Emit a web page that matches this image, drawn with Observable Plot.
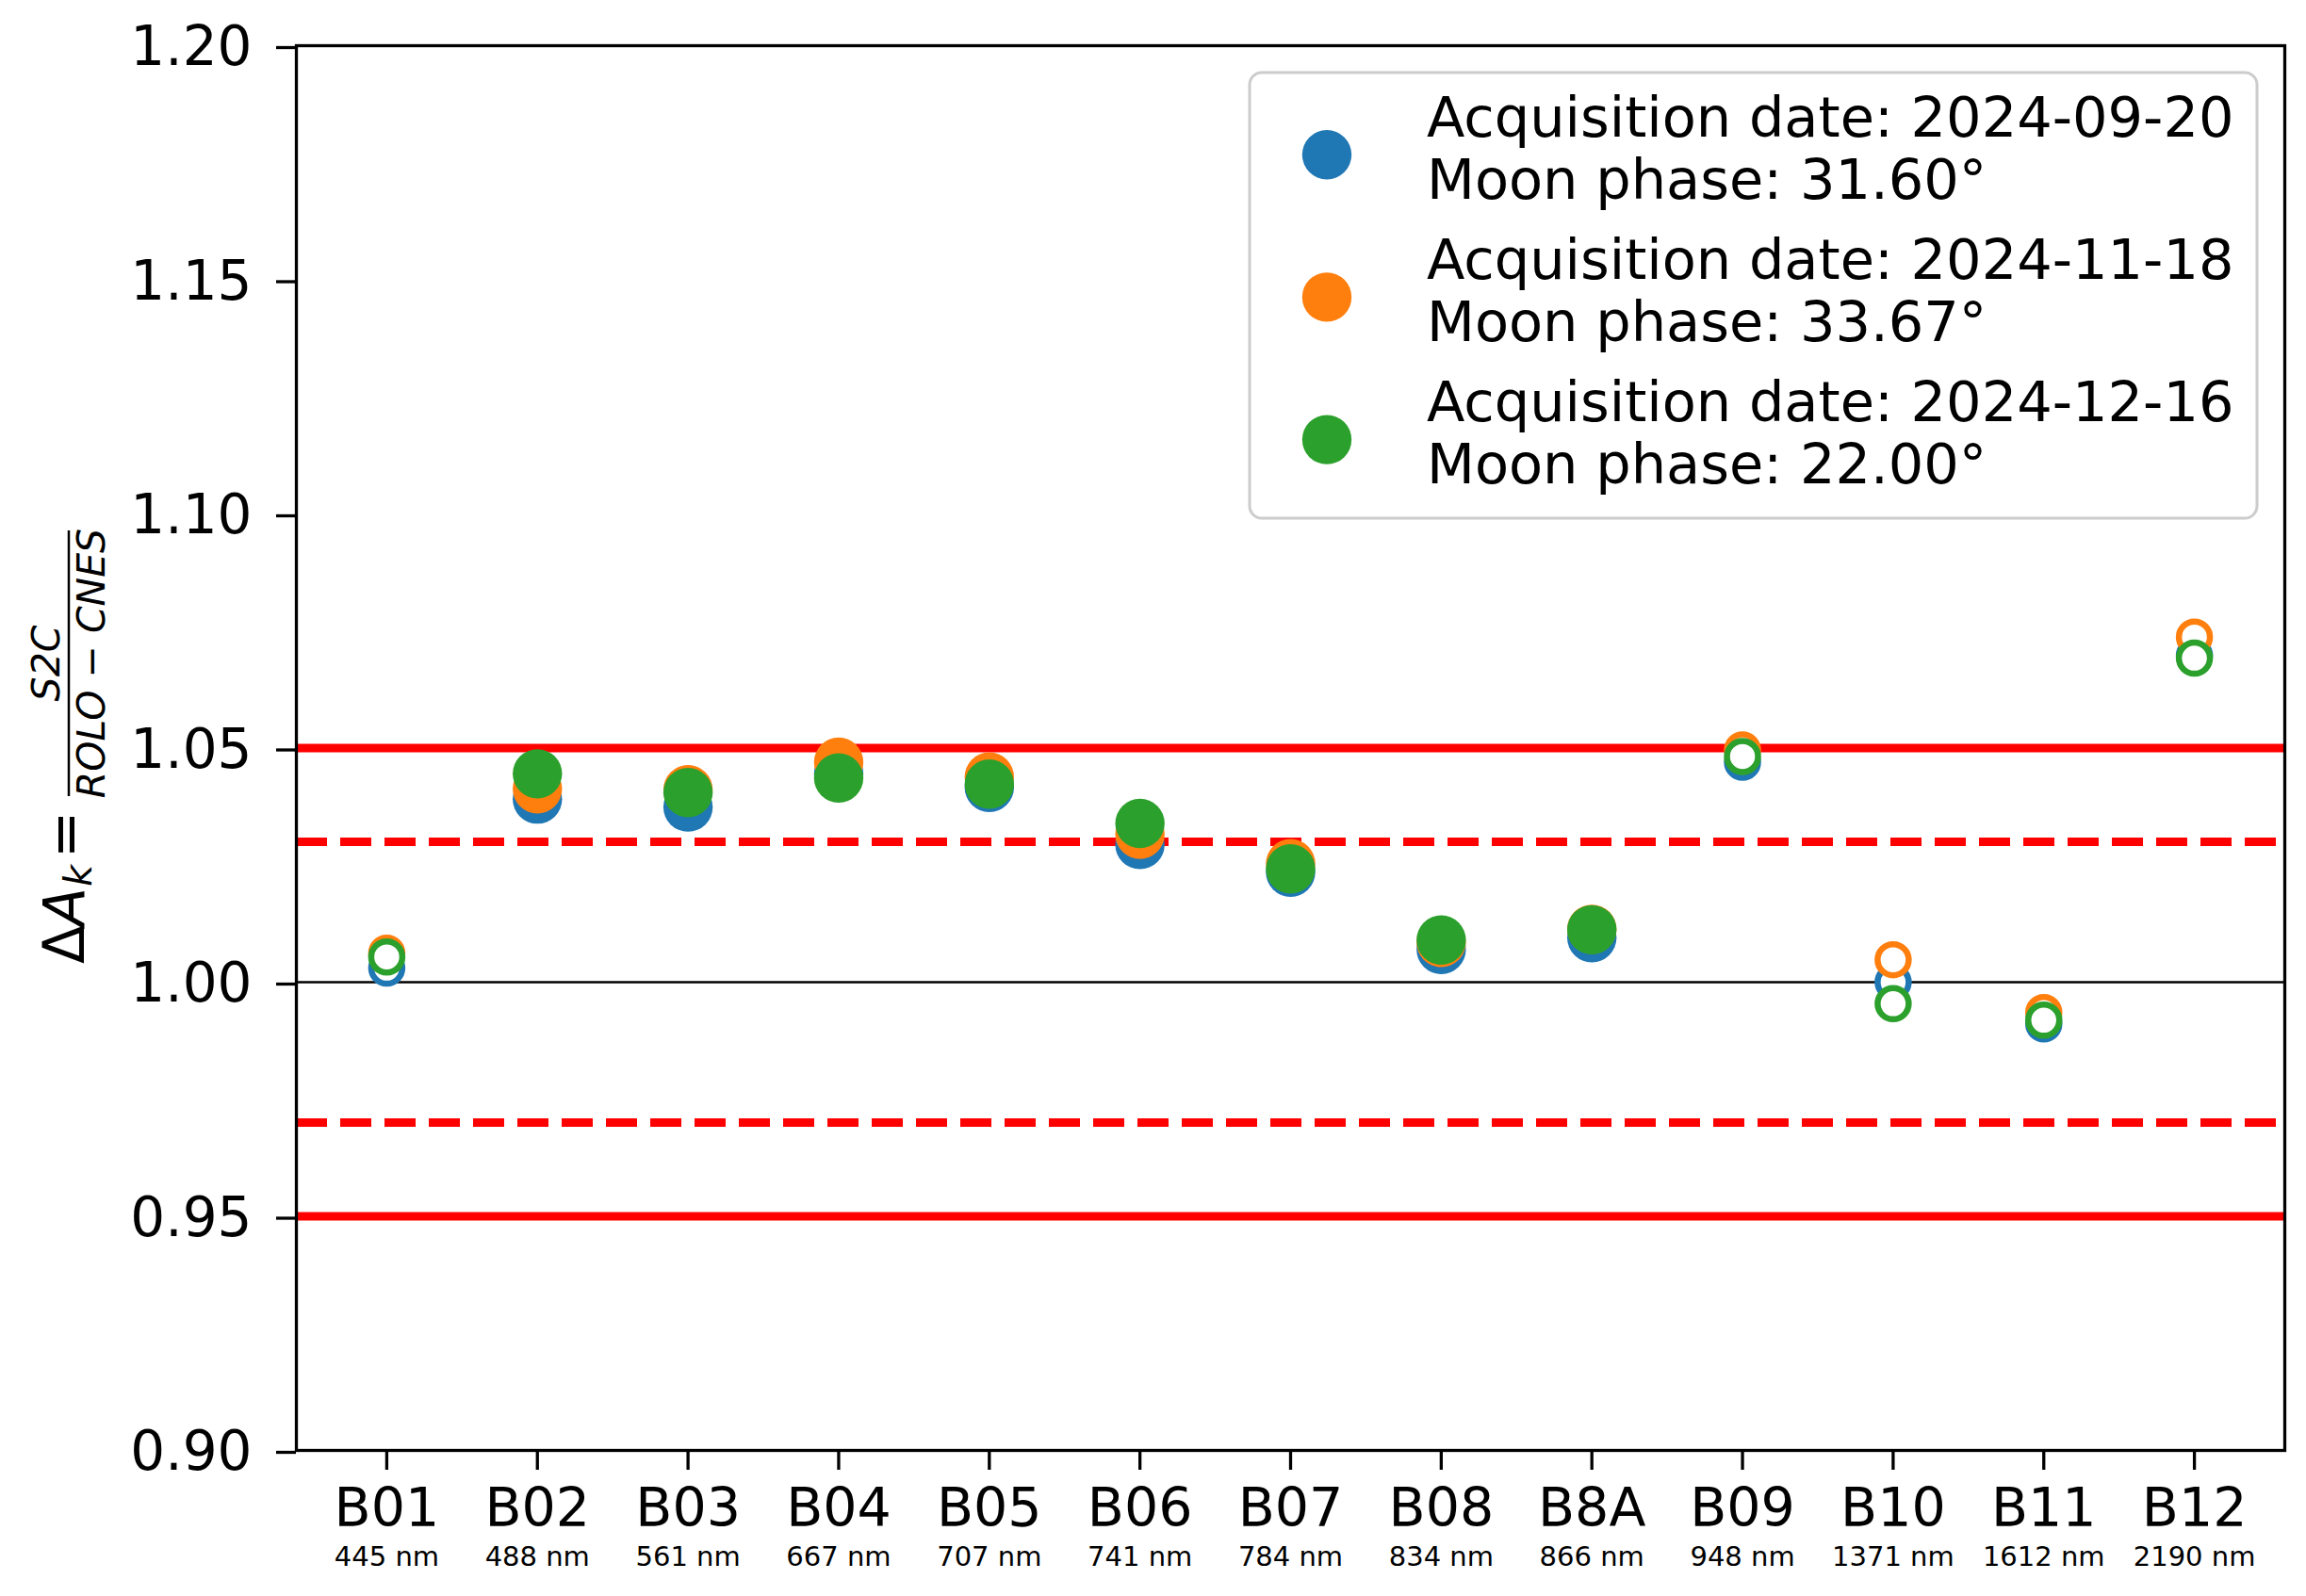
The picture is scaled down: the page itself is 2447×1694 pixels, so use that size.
<!DOCTYPE html>
<html>
<head>
<meta charset="utf-8">
<script src="https://cdn.jsdelivr.net/npm/d3@7"></script>
<script src="https://cdn.jsdelivr.net/npm/@observablehq/plot@0.6"></script>
<style>
  html, body { margin: 0; padding: 0; background: #fff; }
  #chart svg { display: block; }
</style>
</head>
<body>
<div id="chart"></div>
<script>
// ---- data ----
const bands = ["B01","B02","B03","B04","B05","B06","B07","B08","B8A","B09","B10","B11","B12"];
const wavelengths = ["445 nm","488 nm","561 nm","667 nm","707 nm","741 nm","784 nm","834 nm","866 nm","948 nm","1371 nm","1612 nm","2190 nm"];
const hollow = [true,false,false,false,false,false,false,false,false,true,true,true,true];
const dates = ["2024-09-20","2024-11-18","2024-12-16"];
const moonPhases = ["31.60°","33.67°","22.00°"];
const colors = ["#1f77b4","#ff7f0e","#2ca02c"];
const ratio20240920 = [1.0030,1.0391,1.0374,1.0445,1.0416,1.0294,1.0235,1.0070,1.0095,1.0470,1.0000,0.9911,1.0698];
const ratio20241118 = [1.0062,1.0413,1.0411,1.0470,1.0438,1.0316,1.0253,1.0085,1.0113,1.0496,1.0048,0.9935,1.0737];
const ratio20241216 = [1.0054,1.0445,1.0405,1.0436,1.0423,1.0339,1.0242,1.0090,1.0112,1.0482,0.9954,0.9919,1.0692];
const yTicks = [0.90,0.95,1.00,1.05,1.10,1.15,1.20];
const limitsSolid = [0.95,1.05];
const limitsDashed = [0.97,1.03];
const reference = [1.00];

const seriesValues = [ratio20240920, ratio20241118, ratio20241216];
const rows = [];
dates.forEach((d, s) => bands.forEach((b, i) =>
  rows.push({band: b, date: d, value: seriesValues[s][i], hollow: hollow[i]})));

const W = 2447, H = 1694;
const plot = Plot.plot({
  width: W, height: H,
  marginLeft: 314, marginRight: 23, marginTop: 48, marginBottom: 155,
  style: {fontFamily: "DejaVu Sans", fontSize: "58px", background: "white", color: "black"},
  x: {type: "point", domain: bands, padding: 0.6, round: false},
  y: {domain: [0.9, 1.2]},
  color: {domain: dates, range: colors},
  marks: [
    Plot.ruleY(reference, {stroke: "black", strokeWidth: 2.7}),
    Plot.ruleY(limitsDashed, {stroke: "red", strokeWidth: 9, strokeDasharray: "33,14"}),
    Plot.ruleY(limitsSolid, {stroke: "red", strokeWidth: 9}),
    Plot.dot(rows.filter(d => !d.hollow), {x: "band", y: "value", fill: "date", r: 26.2}),
    Plot.dot(rows.filter(d => d.hollow), {x: "band", y: "value", stroke: "date", fill: "white", r: 16.5, strokeWidth: 6.5}),
    Plot.frame({stroke: "black", strokeWidth: 3.3}),
    Plot.axisY({ticks: yTicks, tickFormat: d => d.toFixed(2), tickSize: 21, tickPadding: 26, strokeWidth: 3.3, label: null, fontSize: 58, dy: 2}),
    Plot.axisX({tickSize: 21, tickPadding: 19, strokeWidth: 3.3, label: null, fontSize: 57}),
    Plot.text(bands, {x: d => d, text: (d, i) => wavelengths[i], frameAnchor: "bottom", lineAnchor: "bottom", dy: 122, fontSize: 29})
  ]
});
document.getElementById("chart").appendChild(plot);

// ---- legend ----
const svg = d3.select(plot);
const lg = svg.append("g").attr("font-family", "DejaVu Sans").attr("font-size", 59).attr("text-anchor", "start");
lg.append("rect")
  .attr("x", 1326).attr("y", 77).attr("width", 1069).attr("height", 473).attr("rx", 13)
  .attr("fill", "white").attr("fill-opacity", 0.8)
  .attr("stroke", "#cccccc").attr("stroke-width", 3);
dates.forEach((d, i) => {
  const base = 144.7 + 151.2 * i;
  lg.append("circle").attr("cx", 1408).attr("cy", base + 19.5).attr("r", 26.2).attr("fill", colors[i]);
  lg.append("text").attr("x", 1514).attr("y", base).attr("fill", "black").attr("text-anchor", "start").text("Acquisition date: " + d);
  lg.append("text").attr("x", 1514).attr("y", base + 66).attr("fill", "black").attr("text-anchor", "start").text("Moon phase: " + moonPhases[i]);
});

// ---- y label: ΔA_k = S2C / (ROLO − CNES) ----
const yl = svg.append("g").attr("transform", "translate(89,1023) rotate(-90)")
  .attr("font-family", "DejaVu Sans").attr("fill", "black").attr("text-anchor", "start");
yl.append("text").attr("x", 0).attr("y", 0).attr("font-size", 60).attr("text-anchor", "start").text("Δ");
yl.append("text").attr("x", 40).attr("y", 0).attr("font-size", 60).attr("font-style", "italic").attr("text-anchor", "start").text("A");
yl.append("text").attr("x", 82).attr("y", 8).attr("font-size", 40).attr("font-style", "italic").attr("text-anchor", "start").text("k");
yl.append("text").attr("x", 112).attr("y", 0).attr("font-size", 60).attr("text-anchor", "start").text("=");
yl.append("line").attr("x1", 178).attr("x2", 460).attr("y1", -16).attr("y2", -16)
  .attr("stroke", "black").attr("stroke-width", 2.5);
yl.append("text").attr("x", 319).attr("y", -26).attr("font-size", 41).attr("font-style", "italic")
  .attr("text-anchor", "middle").text("S2C");
const den = yl.append("text").attr("x", 319).attr("y", 22).attr("font-size", 41).attr("text-anchor", "middle");
den.append("tspan").attr("font-style", "italic").text("ROLO");
den.append("tspan").text(" − ");
den.append("tspan").attr("font-style", "italic").text("CNES");
</script>
</body>
</html>
